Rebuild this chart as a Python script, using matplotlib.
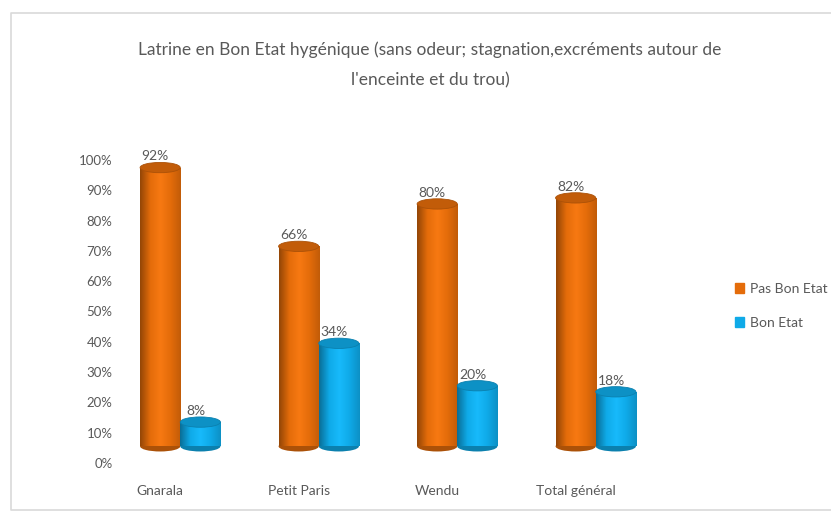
import matplotlib
matplotlib.use('Agg')
import matplotlib.pyplot as plt
import numpy as np
from matplotlib.patches import Ellipse, Rectangle
from matplotlib.lines import Line2D
from matplotlib.colors import LinearSegmentedColormap

## data
categories = ['Gnarala', 'Petit Paris', 'Wendu', 'Total général']
pas_bon_etat = [92, 66, 80, 82]
bon_etat = [8, 34, 20, 18]
series_names = ['Pas Bon Etat', 'Bon Etat']
title = "Latrine en Bon Etat hygénique (sans odeur; stagnation,excréments autour de\nl'enceinte et du trou)"

## style
grey = '#595959'
orange = '#E46C0A'
blue = '#0FAAE8'
depth = 0.055      # 3d floor shift of the cylinders
cap_h = 0.034      # height of the elliptic caps
width = 0.29

plt.rcParams['font.family'] = ['Lato', 'DejaVu Sans']

W, H = 831, 515
fig = plt.figure(figsize=(W / 100, H / 100), dpi=100)
ax = fig.add_axes([111 / W, (H - 463) / H, 554 / W, 303 / H])

# chart frame: left, top and bottom edges only (right side runs off the picture)
fl, fb, ft = 11 / W, (H - 510) / H, (H - 13) / H
fig.add_artist(Line2D([1, fl, fl, 1], [ft, ft, fb, fb], transform=fig.transFigure,
                      color='#D9D9D9', linewidth=1.2))


def shade_cmap(c):
	base = np.array(matplotlib.colors.to_rgb(c))
	dark = base * 0.65
	light = np.clip(base * 1.05 + 0.03, 0, 1)
	return LinearSegmentedColormap.from_list('s', [dark, base, light, base, base * 0.85])


def cylinders(xs, values, color):
	cmap = shade_cmap(color)
	base = np.array(matplotlib.colors.to_rgb(color))
	tops = [v / 100 for v in values]
	bars = ax.bar(xs, tops, width=width, bottom=depth, color=color, zorder=2)
	for b, x, t in zip(bars, xs, tops):
		x0 = b.get_x()
		# rounded bottom
		ax.add_patch(Ellipse((x, depth), width, cap_h, facecolor=base * 0.75, edgecolor='none', zorder=1))
		im = ax.imshow(np.linspace(0, 1, 64).reshape(1, -1), cmap=cmap, aspect='auto',
		               extent=(x0, x0 + width, depth, depth + t), zorder=2)
		im.set_clip_path(b)
		# top cap
		ax.add_patch(Ellipse((x, depth + t), width, cap_h, facecolor=base * 0.85,
		                     edgecolor=base * 0.75, linewidth=0.6, zorder=3))
		ax.text(x - 0.035, depth + t + cap_h / 2, '%d%%' % round(t * 100), ha='center', va='bottom',
		        fontsize=10, color=grey, zorder=4)
	return bars


idx = np.arange(len(categories))
b1 = cylinders(idx - width / 2, pas_bon_etat, orange)
b2 = cylinders(idx + width / 2, bon_etat, blue)

ax.set_xlim(-0.5, len(categories) - 0.5)
ax.set_ylim(0, 1.0)
ax.set_yticks(np.arange(0, 1.01, 0.1))
ax.set_yticklabels(['%d%%' % round(v * 100) for v in np.arange(0, 1.01, 0.1)])
ax.set_xticks(idx - width / 2)
ax.set_xticklabels(categories)
ax.tick_params(length=0, colors=grey, labelsize=9.5)
ax.tick_params(axis='x', pad=16, labelsize=10)
ax.tick_params(axis='y', pad=-1)
for s in ax.spines.values():
	s.set_visible(False)

fig.text(430 / W, 1 - 65 / H, title, ha='center', va='center', fontsize=12.5, color=grey, linespacing=2.1)

# legend
handles = [Rectangle((0, 0), 1, 1, color=orange), Rectangle((0, 0), 1, 1, color=blue)]
fig.legend(handles, series_names, loc='center left', bbox_to_anchor=(722 / W, 1 - 306 / H),
           frameon=False, handlelength=0.7, handleheight=0.7, handletextpad=0.4,
           labelspacing=1.6, fontsize=10, labelcolor=grey)

fig.savefig('out.png', dpi=100)
